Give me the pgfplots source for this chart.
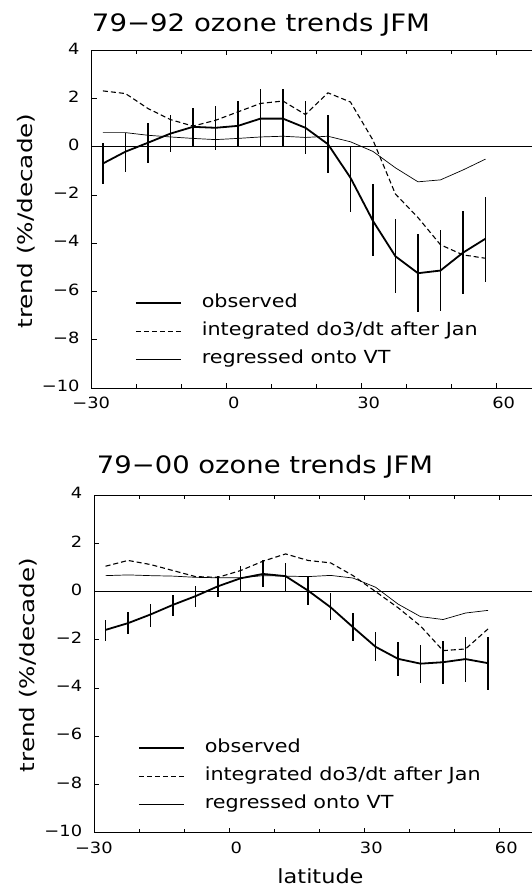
\documentclass[border=0pt]{standalone}
\usepackage{pgfplots}
\pgfplotsset{compat=1.18}
\usepackage{pgfplotstable}
\usepackage{graphicx}
\usepackage{fontspec}
\setmainfont{DejaVu Sans}
\newcommand{\hs}[1]{\scalebox{1.15}[1]{#1}}

% top panel: 79-92
\pgfplotstableread{
x     y      ep    em    d      r
-27.5 -0.69  0.83  0.83  2.32   0.59
-22.5 -0.20  0.78  0.84  2.21   0.59
-17.5  0.17  0.83  0.83  1.59   0.48
-12.5  0.55  0.76  0.76  1.13   0.41
-7.5   0.83  0.80  0.80  0.86   0.35
-2.5   0.79  0.91  0.93  1.10   0.30
2.5    0.87  1.03  0.87  1.45   0.35
7.5    1.17  1.21  1.17  1.80   0.41
12.5   1.17  1.21  1.17  1.90   0.44
17.5   0.79  1.11  1.09  1.34   0.39
22.5   0.11  1.23  1.21  2.24   0.44
27.5  -1.28  1.33  1.41  1.86   0.21
32.5  -3.07  1.52  1.46  0.28  -0.19
37.5  -4.54  1.54  1.54 -1.96  -0.87
42.5  -5.24  1.61  1.62 -2.93  -1.45
47.5  -5.13  1.68  1.68 -4.06  -1.37
52.5  -4.39  1.71  1.71 -4.48  -0.96
57.5  -3.81  1.74  1.79 -4.62  -0.51
}\dataA

% bottom panel: 79-00
\pgfplotstableread{
x     y      ep    em    d      r
-27.5 -1.59  0.43  0.48  1.05   0.66
-22.5 -1.31  0.45  0.47  1.29   0.69
-17.5 -0.95  0.44  0.53  1.12   0.66
-12.5 -0.55  0.41  0.45  0.87   0.64
-7.5  -0.19  0.40  0.46  0.62   0.59
-2.5   0.22  0.44  0.46  0.59   0.57
2.5    0.55  0.49  0.55  0.87   0.57
7.5    0.73  0.56  0.55  1.26   0.66
12.5   0.64  0.54  0.64  1.56   0.64
17.5   0.04  0.57  0.59  1.29   0.62
22.5  -0.65  0.58  0.52  1.19   0.67
27.5  -1.48  0.58  0.55  0.66   0.56
32.5  -2.29  0.62  0.57  0.00   0.18
37.5  -2.79  0.68  0.70 -0.67  -0.52
42.5  -2.99  0.79  0.81 -1.43  -1.04
47.5  -2.93  0.90  0.90 -2.45  -1.16
52.5  -2.80  0.90  0.96 -2.38  -0.89
57.5  -2.97  1.10  1.12 -1.55  -0.78
}\dataB

\pgfplotsset{
  ozone/.style={
    scale only axis, width=450pt, height=337.6pt,
    xmin=-30, xmax=70, ymin=-10, ymax=4,
    xtick={-30,0,30,60}, xticklabels={\hs{\llap{−}30},\hs{0},\hs{30},\hs{60}},
    minor xtick={-20,-10,10,20,40,50},
    ytick={-10,-8,-6,-4,-2,0,2,4},
    yticklabels={\hs{−10},\hs{−8},\hs{−6},\hs{−4},\hs{−2},\hs{0},\hs{2},\hs{4}},
    xtick pos=both, xticklabel pos=lower,
    ytick pos=left,
    tick align=inside,
    major tick length=5pt, minor tick length=4pt,
    tick style={black, line width=0.8pt},
    axis line style={line width=0.9pt},
    ticklabel style={font=\fontsize{15.5}{18}\selectfont},
    yticklabel style={anchor=east, inner sep=0pt, xshift=-12pt, yshift=2pt},
    xticklabel style={anchor=base, inner sep=0pt, yshift=-21pt, xshift=7pt},
    legend image code/.code={\draw[#1] (0pt,0pt) -- (45pt,0pt); \path (65pt,0pt);},
    legend style={anchor=north west, draw=none, fill=none, inner sep=0pt, outer sep=0pt,
      row sep=0pt, font=\fontsize{18}{20}\selectfont,
      nodes={inner sep=0pt, text height=18.5pt, text depth=9.5pt}, cells={anchor=west}},
  },
  obs/.style={black, line width=1.8pt, error bars/.cd, y dir=both, y explicit,
    error mark=none, error bar style={line width=#1}},
  integ/.style={black, line width=1.1pt, dash pattern=on 5pt off 3pt},
  regr/.style={black, line width=0.7pt},
}

\begin{document}
\begin{tikzpicture}
\useasboundingbox (0,0) rectangle (531pt,888pt);

\begin{axis}[ozone, at={(91.7pt,500pt)}, anchor=south west,
  legend style={at={(axis description cs:0.0962,0.2924)}}]
\addplot[black, line width=0.8pt, forget plot] coordinates {(-30,0) (70,0)};
\addplot[obs=1.8pt] table[x=x, y=y, y error plus=ep, y error minus=em]{\dataA};
\addlegendentry{\hs{observed}}
\addplot[integ] table[x=x, y=d]{\dataA};
\addlegendentry{\hs{integrated do3/dt after Jan}}
\addplot[regr] table[x=x, y=r]{\dataA};
\addlegendentry{\hs{regressed onto VT}}
\end{axis}

\begin{axis}[ozone, at={(94.3pt,55.3pt)}, anchor=south west,
  legend style={at={(axis description cs:0.097,0.2914)}}]
\addplot[black, line width=0.8pt, forget plot] coordinates {(-30,0) (70,0)};
\addplot[obs=1.5pt] table[x=x, y=y, y error plus=ep, y error minus=em]{\dataB};
\addlegendentry{\hs{observed}}
\addplot[integ] table[x=x, y=d]{\dataB};
\addlegendentry{\hs{integrated do3/dt after Jan}}
\addplot[regr] table[x=x, y=r]{\dataB};
\addlegendentry{\hs{regressed onto VT}}
\end{axis}

% titles and axis labels
\node[anchor=base, inner sep=0pt, font=\fontsize{24}{28}\selectfont]
  at (261pt,856pt) {\resizebox{338pt}{\height}{79−92 ozone trends JFM}};
\node[anchor=base, inner sep=0pt, font=\fontsize{24}{28}\selectfont]
  at (265pt,414.7pt) {\resizebox{336pt}{\height}{79−00 ozone trends JFM}};
\node[rotate=90, anchor=base, inner sep=0pt, font=\fontsize{20}{24}\selectfont]
  at (32.5pt,667pt) {\resizebox{215pt}{\height}{trend (\%/decade)}};
\node[rotate=90, anchor=base, inner sep=0pt, font=\fontsize{20}{24}\selectfont]
  at (35pt,223pt) {\resizebox{214pt}{\height}{trend (\%/decade)}};
\node[anchor=base, inner sep=0pt, font=\fontsize{19.5}{22}\selectfont]
  at (320.5pt,5pt) {\hs{latitude}};
\end{tikzpicture}
\end{document}
